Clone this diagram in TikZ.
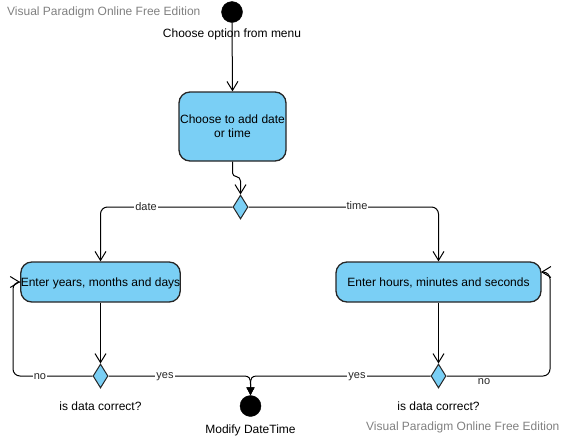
\documentclass[tikz,border=0pt]{standalone}
\usepackage{fontspec}
\setmainfont{Liberation Sans}
\usetikzlibrary{shapes.geometric,arrows.meta}
\definecolor{vpblue}{HTML}{7ACFF5}
\definecolor{wm}{HTML}{808080}
\tikzset{
  actbox/.style={draw=black!85,line width=1.3pt,fill=vpblue,rounded corners=11pt,inner sep=0pt,align=center,text depth=0.5pt,font=\fontsize{12}{13.5}\selectfont},
  decision/.style={diamond,draw=black!85,line width=1pt,fill=vpblue,inner sep=0pt,minimum width=15pt,minimum height=24pt},
  dot/.style={circle,fill=black,draw=black,inner sep=0pt,minimum size=21pt},
  flow/.style={line width=1pt,-{Straight Barb[length=9pt,width=11pt,line width=1pt]}},
  endflow/.style={line width=1pt,-{Triangle[length=8pt,width=8pt]}},
  txt/.style={font=\fontsize{12}{14}\selectfont,inner sep=0pt},
  lbl/.style={font=\fontsize{11}{13}\selectfont,fill=white,inner sep=1pt,text=black!85},
  wmark/.style={font=\fontsize{12}{14}\selectfont,text=wm,inner sep=0pt,anchor=west}
}
\begin{document}
\begin{tikzpicture}[x=1pt,y=-1pt]
\useasboundingbox (0,0) rectangle (564,437);
\node[wmark] (wm1) at (7,12) {Visual Paradigm Online Free Edition};
\node[wmark] (wm2) at (366,427) {Visual Paradigm Online Free Edition};

\node[dot] (start) at (232,12) {};
\node[txt] (startlbl) at (232,34) {Choose option from menu};

\node[actbox,minimum width=107pt,minimum height=69pt] (b1) at (232.5,126.5) {Choose to add date\\or time};
\node[decision] (d1) at (240.5,207) {};

\node[actbox,minimum width=157pt,minimum height=40pt] (b2) at (100.5,282) {Enter years, months and days};
\node[actbox,minimum width=205pt,minimum height=40pt] (b3) at (438.5,282) {Enter hours, minutes and seconds};

\node[decision] (d2) at (100.5,376) {};
\node[decision] (d3) at (438.5,376) {};

\node[txt] (q2) at (100.5,406) {is data correct?};
\node[txt] (q3) at (438.5,406) {is data correct?};

\node[dot,minimum size=21pt] (end) at (250.5,406) {};
\node[txt] (endlbl) at (250.5,430) {Modify DateTime};

\coordinate (m) at (250.5,384);

% connectors
\draw[flow] (start.south) -- (b1.north);
\draw[flow] (b1.south) -- (232.5,173) .. controls (232.5,178) and (240.5,175) .. (240.5,181) -- (d1.north);
\draw[flow,rounded corners=7pt] (d1.west) -- (100.5,207) -- (b2.north);
\draw[flow,rounded corners=7pt] (d1.east) -- (438.5,207) -- (b3.north);
\draw[flow] (b2.south) -- (d2.north);
\draw[flow] (b3.south) -- (d3.north);
\draw[flow,rounded corners=7pt] (d2.west) -- (13,376) -- (13,282) -- (b2.west);
\draw[flow,rounded corners=7pt] (d3.east) -- (550,376) -- (550,272) -- (541,272);
\draw[endflow] (d2.east) -- (244,376) .. controls (249,376) and (250.5,378) .. (m) -- (end.north);
\draw[endflow] (d3.west) -- (257,376) .. controls (252,376) and (250.5,378) .. (m) -- (end.north);

% labels
\node[lbl] (ldate) at (146,207) {date};
\node[lbl] (ltime) at (357,206) {time};
\node[lbl] (lno1) at (40,377) {no};
\node[lbl] (lyes1) at (165,377) {yes};
\node[lbl] (lyes2) at (357,377) {yes};
\node[lbl] (lno2) at (484,382) {no};
\end{tikzpicture}
\end{document}
